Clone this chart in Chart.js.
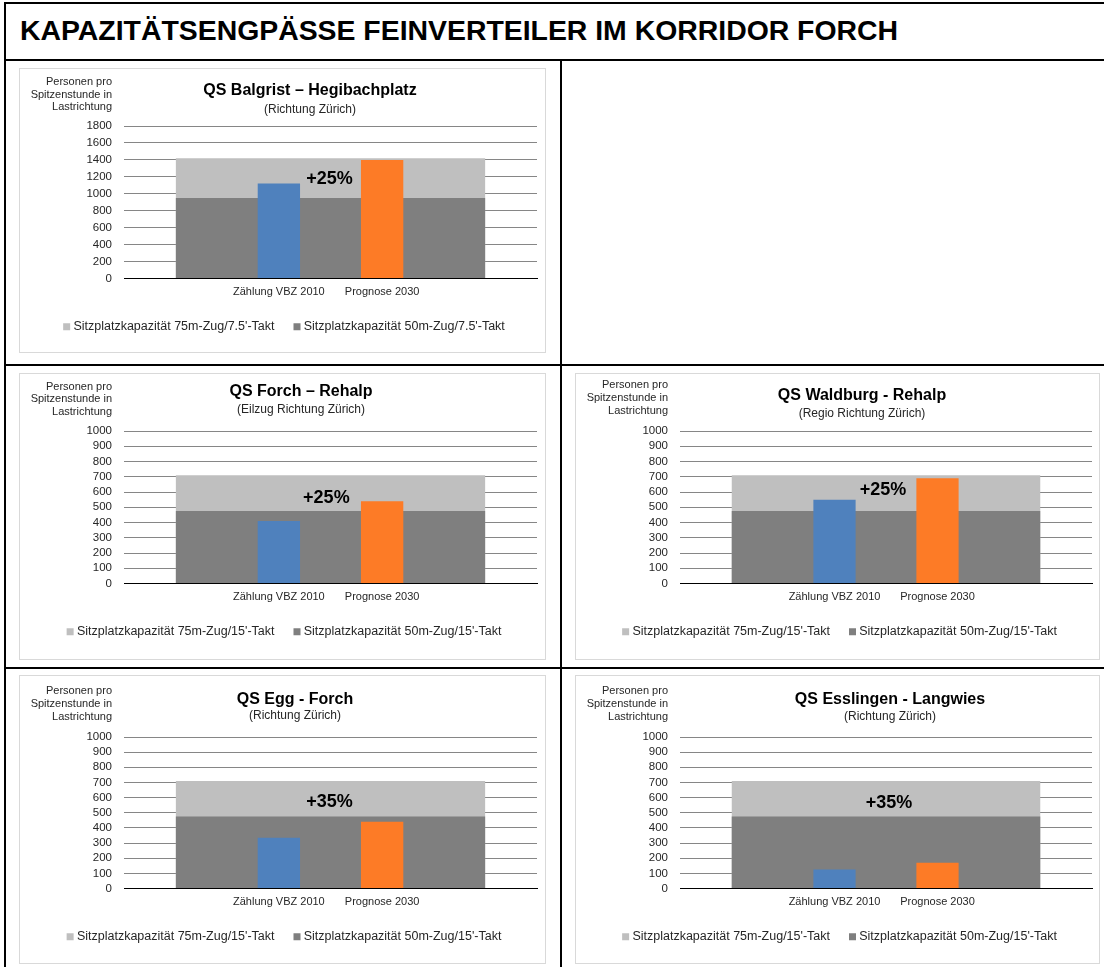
<!DOCTYPE html>
<html lang="de">
<head>
<meta charset="utf-8">
<title>Kapazitätsengpässe Feinverteiler im Korridor Forch</title>
<script src="https://cdn.jsdelivr.net/npm/chart.js@4.4.1/dist/chart.umd.min.js"></script>
<style>
  body { margin: 0; background: #fff; font-family: "Liberation Sans", Arial, sans-serif; }
  .linie { position: absolute; background: #000; }
  .box { position: absolute; border: 1px solid #d9d9d9; background: #fff; }
  .box canvas { display: block; }
  #kopf { position: absolute; left: 20px; top: 13px; font-weight: bold; font-size: 28.4px; line-height: 34px; color: #000; white-space: nowrap; }
</style>
</head>
<body>
<!-- Rahmen und Tabellenlinien -->
<div class="linie" style="left:4px; top:2px; width:1100px; height:2px"></div>
<div class="linie" style="left:4px; top:2px; width:2px; height:970px"></div>
<div class="linie" style="left:4px; top:59px; width:1100px; height:2px"></div>
<div class="linie" style="left:560px; top:59px; width:2px; height:912px"></div>
<div class="linie" style="left:4px; top:364px; width:1100px; height:2px"></div>
<div class="linie" style="left:4px; top:667px; width:1100px; height:2px"></div>
<div id="kopf">KAPAZITÄTSENGPÄSSE FEINVERTEILER IM KORRIDOR FORCH</div>

<div class="box" style="left:19px; top:68px"><canvas id="qsBalgrist" width="525" height="283"></canvas></div>
<div class="box" style="left:19px; top:373px"><canvas id="qsForch" width="525" height="285"></canvas></div>
<div class="box" style="left:575px; top:373px"><canvas id="qsWaldburg" width="523" height="285"></canvas></div>
<div class="box" style="left:19px; top:675px"><canvas id="qsEgg" width="525" height="287"></canvas></div>
<div class="box" style="left:575px; top:675px"><canvas id="qsEsslingen" width="523" height="287"></canvas></div>

<script>
// Kategorien: leere Positionen links/rechts, damit die Kapazitätsfläche über die Balken hinausreicht
const kategorien = ['', 'Zählung VBZ 2010', 'Prognose 2030', ''];
const achsentitel = ['Personen pro', 'Spitzenstunde in', 'Lastrichtung'];

const legende7_5 = ["Sitzplatzkapazität 75m-Zug/7.5'-Takt", "Sitzplatzkapazität 50m-Zug/7.5'-Takt"];
const legende15 = ["Sitzplatzkapazität 75m-Zug/15'-Takt", "Sitzplatzkapazität 50m-Zug/15'-Takt"];

// Sitzplatzkapazitäten (Personen pro Spitzenstunde)
const kap75Zug7_5 = [1420, 1420, 1420, 1420];
const kap50Zug7_5 = [950, 950, 950, 950];
const kap75Zug15 = [710, 710, 710, 710];
const kap50Zug15 = [475, 475, 475, 475];

// Nachfrage: Zählung VBZ 2010 / Prognose 2030
const balgrist = [null, 1120, 1400, null];
const forch = [null, 410, 540, null];
const waldburg = [null, 550, 690, null];
const egg = [null, 335, 440, null];
const esslingen = [null, 125, 170, null];

const zuwachs = ['+25%', '+25%', '+25%', '+35%', '+35%'];

// y-Achsen
const maxGross = 1800, schrittGross = 200;
const maxKlein = 1000, schrittKlein = 100;

const hellgrau = '#bfbfbf';
const dunkelgrau = '#7f7f7f';
const blau = '#4f81bd';
const orange = '#fd7b26';
const gitter = '#868686';
const textfarbe = '#262626';
const schrift = '"Liberation Sans", Arial, sans-serif';

Chart.defaults.font.family = schrift;
Chart.defaults.color = textfarbe;

// Achsentitel, Diagrammtitel und Zuwachs-Label
const kopfPlugin = {
  id: 'kopf',
  afterDraw(chart, args, o) {
    const {ctx, chartArea} = chart;
    ctx.save();
    ctx.textBaseline = 'middle';
    ctx.fillStyle = textfarbe;
    ctx.textAlign = 'right';
    ctx.font = '11px ' + schrift;
    achsentitel.forEach((z, i) => ctx.fillText(z, chartArea.left - 12, o.achseY + i * 12.8));

    ctx.textAlign = 'center';
    ctx.fillStyle = '#000';
    ctx.font = 'bold 16px ' + schrift;
    ctx.fillText(o.titel, o.mitteX, o.titelY);
    ctx.fillStyle = textfarbe;
    ctx.font = '12px ' + schrift;
    ctx.fillText(o.untertitel, o.mitteX, o.unterY);

    const x = chart.scales.x.getPixelForValue(o.zuwachsX);
    const y = chart.scales.y.getPixelForValue(o.zuwachsY);
    ctx.fillStyle = '#000';
    ctx.font = 'bold 18px ' + schrift;
    ctx.fillText(o.zuwachs, x, y);
    ctx.restore();
  }
};

function zeichne(id, werte, kap75, kap50, legende, maxY, schritt, o) {
  return new Chart(document.getElementById(id), {
    type: 'bar',
    data: {
      labels: kategorien,
      datasets: [
        { type: 'line', label: legende[0], data: kap75, backgroundColor: hellgrau, borderColor: hellgrau,
          borderWidth: 0, pointRadius: 0, fill: 'origin', order: 3 },
        { type: 'line', label: legende[1], data: kap50, backgroundColor: dunkelgrau, borderColor: dunkelgrau,
          borderWidth: 0, pointRadius: 0, fill: 'origin', order: 2 },
        { label: 'Personen', data: werte, backgroundColor: ['rgba(0,0,0,0)', blau, orange, 'rgba(0,0,0,0)'],
          barPercentage: 0.41, categoryPercentage: 1, order: 1 }
      ]
    },
    options: {
      responsive: false,
      animation: false,
      events: [],
      layout: { padding: { top: o.oben, right: o.rechts, bottom: o.unten, left: 14 } },
      scales: {
        x: {
          offset: true,
          grid: { display: false, drawTicks: false },
          border: { display: true, color: '#000', width: 1, z: 1 },
          ticks: { font: { size: 11 }, padding: 7, maxRotation: 0, autoSkip: false },
          afterFit: s => { s.height = 20; }
        },
        y: {
          min: 0, max: maxY,
          ticks: { stepSize: schritt, font: { size: 11.5 }, padding: 12, autoSkip: false,
                   callback: v => String(v) },
          grid: { color: gitter, drawTicks: false },
          border: { display: false },
          afterFit: s => { s.width = 90; }
        }
      },
      plugins: {
        legend: {
          position: 'bottom',
          labels: {
            usePointStyle: true, pointStyle: 'rect', boxWidth: 1, boxHeight: 7,
            padding: 22, font: { size: 12.5 }, color: textfarbe,
            filter: item => item.datasetIndex < 2,
            sort: (a, b) => a.datasetIndex - b.datasetIndex
          }
        },
        tooltip: { enabled: false },
        kopf: o
      }
    },
    plugins: [kopfPlugin]
  });
}

zeichne('qsBalgrist', balgrist, kap75Zug7_5, kap50Zug7_5, legende7_5, maxGross, schrittGross, {
  oben: 57, rechts: 8, unten: 9, achseY: 12.7,
  titel: 'QS Balgrist – Hegibachplatz', untertitel: '(Richtung Zürich)', mitteX: 290, titelY: 22, unterY: 41,
  zuwachs: zuwachs[0], zuwachsX: 1.49, zuwachsY: 1171
});
zeichne('qsForch', forch, kap75Zug15, kap50Zug15, legende15, maxKlein, schrittKlein, {
  oben: 57, rechts: 8, unten: 11, achseY: 12.5,
  titel: 'QS Forch – Rehalp', untertitel: '(Eilzug Richtung Zürich)', mitteX: 281, titelY: 17.5, unterY: 36,
  zuwachs: zuwachs[1], zuwachsX: 1.46, zuwachsY: 560
});
zeichne('qsWaldburg', waldburg, kap75Zug15, kap50Zug15, legende15, maxKlein, schrittKlein, {
  oben: 57, rechts: 7, unten: 11, achseY: 11,
  titel: 'QS Waldburg - Rehalp', untertitel: '(Regio Richtung Zürich)', mitteX: 286, titelY: 21.5, unterY: 39.5,
  zuwachs: zuwachs[2], zuwachsX: 1.47, zuwachsY: 612
});
zeichne('qsEgg', egg, kap75Zug15, kap50Zug15, legende15, maxKlein, schrittKlein, {
  oben: 61, rechts: 8, unten: 10, achseY: 15.3,
  titel: 'QS Egg - Forch', untertitel: '(Richtung Zürich)', mitteX: 275, titelY: 24, unterY: 40,
  zuwachs: zuwachs[3], zuwachsX: 1.49, zuwachsY: 570
});
zeichne('qsEsslingen', esslingen, kap75Zug15, kap50Zug15, legende15, maxKlein, schrittKlein, {
  oben: 61, rechts: 7, unten: 10, achseY: 15,
  titel: 'QS Esslingen - Langwies', untertitel: '(Richtung Zürich)', mitteX: 314, titelY: 23.5, unterY: 40.8,
  zuwachs: zuwachs[4], zuwachsX: 1.53, zuwachsY: 565
});
</script>
</body>
</html>
